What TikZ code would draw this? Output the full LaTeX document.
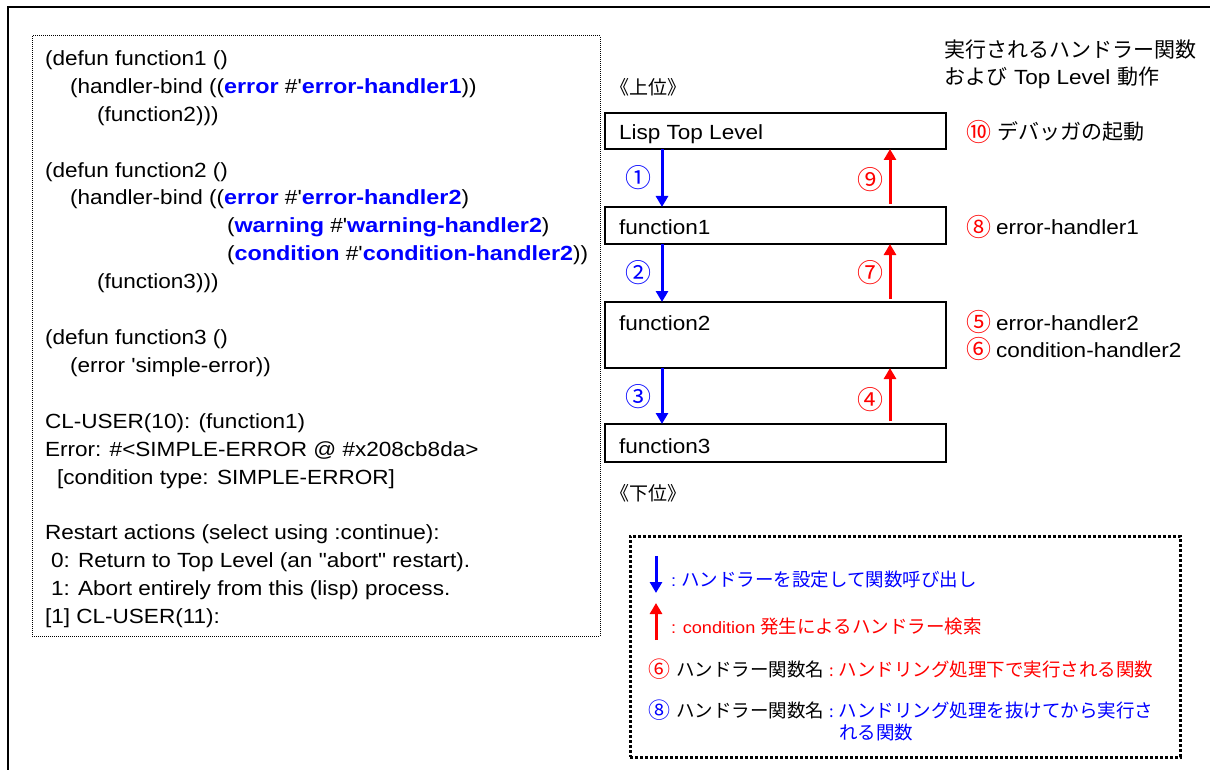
\documentclass[tikz,border=0pt]{standalone}
\usepackage{fontspec}
\setmainfont{Liberation Sans}[FakeStretch=1.1,Ligatures=TeXOff,BoldFeatures={FakeStretch=1.14}]
\newfontfamily\jp{Noto Sans CJK JP}
\usetikzlibrary{arrows.meta}
\definecolor{blue}{RGB}{0,0,255}
\definecolor{red}{RGB}{255,0,0}
\newcommand\bb[1]{\textcolor{blue}{\bfseries #1}}
\newcommand\mainsz{\fontsize{20.5}{23}\selectfont}
\newcommand\jbig{\jp\fontsize{21}{24}\selectfont}
\newcommand\cnum{\jp\fontsize{25}{24}\selectfont}
\newcommand\ls{\fontsize{16.5}{20}\selectfont}
\newcommand\lj{\jp\fontsize{18.5}{21}\selectfont}
\newcommand\lnum{\jp\fontsize{22}{21}\selectfont}
\begin{document}
\begin{tikzpicture}[x=1pt,y=-1pt,
  every node/.style={inner sep=0pt,outer sep=0pt},
  cl/.style={anchor=base west,font=\mainsz},
  fbox/.style={draw,line width=1.2pt,anchor=north west,minimum width=341pt},
  blab/.style={anchor=base west,font=\mainsz},
  num/.style={font=\jp\fontsize{26}{26}\selectfont},
  darr/.style={draw=blue,line width=3pt,-{Triangle[length=11pt,width=12pt]}},
  uarr/.style={draw=red,line width=3pt,-{Triangle[length=11pt,width=12pt]},shorten <=3pt},
]
\useasboundingbox (0,0) rectangle (1210,770);
\draw[line width=2.5pt] (8,790) -- (8,7) -- (1230,7);

% code box
\node[draw,dash pattern=on 1pt off 1pt,line width=1pt,anchor=north west,minimum width=568pt,minimum height=600pt] (code) at (32,36) {};
\node[cl] (c0) at (45,65.5) {(defun function1 ()};
\node[cl] (c1) at (70,93.4) {(handler-bind ((\bb{error} \#'\bb{error-handler1}))};
\node[cl] (c2) at (97,121.3) {(function2)))};
\node[cl] (c4) at (45,177.1) {(defun function2 ()};
\node[cl] (c5) at (70,205) {(handler-bind ((\bb{error} \#'\bb{error-handler2})};
\node[cl] (c6) at (227,232.9) {(\bb{warning} \#'\bb{warning-handler2})};
\node[cl] (c7) at (227,260.8) {(\bb{condition} \#'\bb{condition-handler2}))};
\node[cl] (c8) at (97,288.7) {(function3)))};
\node[cl] (c10) at (45,344.5) {(defun function3 ()};
\node[cl] (c11) at (70,372.4) {(error 'simple-error))};
\node[cl] (c13) at (45,428.2) {CL-USER(10): (function1)};
\node[cl] (c14) at (45,456.1) {Error: \#<SIMPLE-ERROR @ \#x208cb8da>};
\node[cl] (c15) at (57,484) {[condition type: SIMPLE-ERROR]};
\node[cl] (c17) at (45,539.8) {Restart actions (select using :continue):};
\node[cl] (c18) at (51,567.7) {0: Return to Top Level (an "abort" restart).};
\node[cl] (c19) at (51,595.6) {1: Abort entirely from this (lisp) process.};
\node[cl] (c20) at (45,623.5) {[1] CL-USER(11):};

% header
\node[anchor=base west,font=\jbig] (h1) at (944,58) {実行されるハンドラー関数};
\node[anchor=base west,font=\mainsz] (h2) at (944,85) {{\jbig および}\hspace{7pt}Top Level\hspace{7pt}{\jbig 動作}};
\node[anchor=base west,font=\jp\fontsize{19}{22}\selectfont] (up) at (610,95) {《上位》};
\node[anchor=base west,font=\jp\fontsize{19}{22}\selectfont] (down) at (610,500) {《下位》};

% stack boxes
\node[fbox,minimum height=36pt] (lisp) at (605,113) {};
\node[fbox,minimum height=37pt] (f1) at (605,207) {};
\node[fbox,minimum height=66pt] (f2) at (605,302) {};
\node[fbox,minimum height=38pt] (f3) at (605,424) {};
\node[blab] (tl) at (619,140) {Lisp Top Level};
\node[blab] (t1) at (619,235) {function1};
\node[blab] (t2) at (619,330) {function2};
\node[blab] (t3) at (619,453) {function3};

\coordinate (bx) at (662,0);
\coordinate (rx) at (890,0);
\draw[darr] (lisp.south -| bx) -- (f1.north -| bx);
\draw[darr] (f1.south -| bx) -- (f2.north -| bx);
\draw[darr] (f2.south -| bx) -- (f3.north -| bx);
\draw[uarr] (f3.north -| rx) -- (f2.south -| rx);
\draw[uarr] (f2.north -| rx) -- (f1.south -| rx);
\draw[uarr] (f1.north -| rx) -- (lisp.south -| rx);

\node[num,text=blue] (n1) at (638,178) {①};
\node[num,text=blue] (n2) at (638,273) {②};
\node[num,text=blue] (n3) at (638,397) {③};
\node[num,text=red] (n4) at (870,400) {④};
\node[num,text=red] (n7) at (870,273) {⑦};
\node[num,text=red] (n9) at (870,180) {⑨};

% right side labels
\node[anchor=base west,font=\jbig] (r10) at (966,140) {\textcolor{red}{\cnum\raisebox{-1.5pt}{⑩}}\hspace{6pt}デバッガの起動};
\node[blab] (r8) at (966,235) {\textcolor{red}{\cnum\raisebox{-1.5pt}{⑧}}\hspace{5pt}error-handler1};
\node[blab] (r5) at (966,330) {\textcolor{red}{\cnum\raisebox{-1.5pt}{⑤}}\hspace{5pt}error-handler2};
\node[blab] (r6) at (966,357) {\textcolor{red}{\cnum\raisebox{-1.5pt}{⑥}}\hspace{5pt}condition-handler2};

% legend
\node[draw,line width=3pt,dash pattern=on 3pt off 2pt,anchor=north west,minimum width=550pt,minimum height=221pt] (leg) at (630,536) {};
\coordinate (la1) at (656,556);
\coordinate (la2) at (656,593);
\coordinate (la3) at (656,640);
\coordinate (la4) at (656,603);
\draw[darr] (la1) -- (la2);
\draw[uarr,shorten <=0pt] (la3) -- (la4);
\node[anchor=base west,text=blue] (l1) at (671,586) {\ls :\ {\lj ハンドラーを設定して関数呼び出し}};
\node[anchor=base west,text=red] (l2) at (671,633) {\ls : condition {\lj 発生によるハンドラー検索}};
\node[anchor=base west,font=\lj] (l3) at (648,676) {\textcolor{red}{\lnum\raisebox{-1pt}{⑥}}\hspace{6pt}ハンドラー関数名\hspace{5pt}\textcolor{red}{{\ls :}\hspace{5pt}ハンドリング処理下で実行される関数}};
\node[anchor=base west,font=\lj] (l4) at (648,717) {\textcolor{blue}{\lnum\raisebox{-1pt}{⑧}}\hspace{6pt}ハンドラー関数名\hspace{5pt}\textcolor{blue}{{\ls :}\hspace{5pt}ハンドリング処理を抜けてから実行さ}};
\node[anchor=base west,text=blue] (l5) at (839,739) {\lj れる関数};
\end{tikzpicture}
\end{document}
